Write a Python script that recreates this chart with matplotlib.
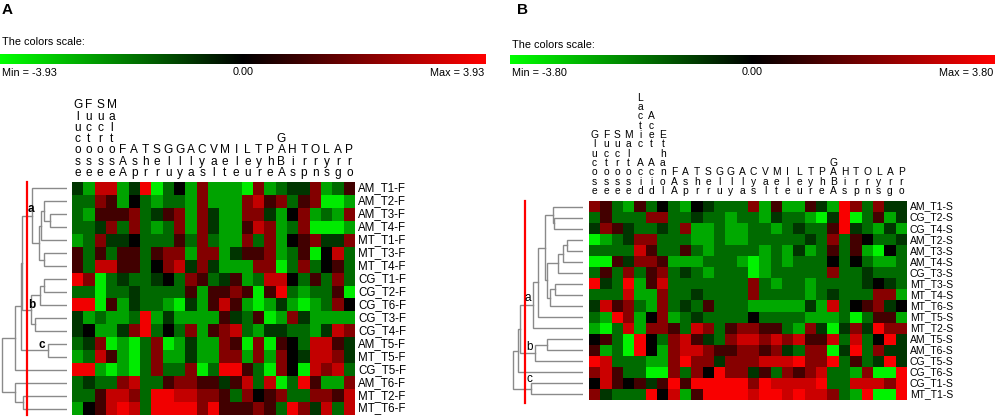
import numpy as np
import matplotlib
matplotlib.use("Agg")
import matplotlib.pyplot as plt
from matplotlib.colors import LinearSegmentedColormap
from matplotlib.transforms import blended_transform_factory

plt.rcParams["font.family"] = ["Liberation Sans", "DejaVu Sans"]

W, H = 1000, 417

# colour codes -> approximate z-score
levels = {"G": -3.6, "g": -2.5, "d": -1.6, "n": -0.8, "k": 0.0,
          "q": 1.0, "r": 2.0, "R": 3.0, "X": 3.7}

# ---- panel A (fruit) ----
cols_a = ["Glucose", "Fuctose", "Sucrose", "Maltose", "FAA", "Asp", "Thr", "Ser",
          "Glu", "Gly", "Ala", "Cys", "Val", "Met", "Ile", "Leu", "Tyr", "Phe",
          "GABA", "His", "Trp", "Orn", "Lys", "Arg", "Pro"]
rows_a = ["AM_T1-F", "AM_T2-F", "AM_T3-F", "AM_T4-F", "MT_T1-F", "MT_T3-F",
          "MT_T4-F", "CG_T1-F", "CG_T2-F", "CG_T6-F", "CG_T3-F", "CG_T4-F",
          "AM_T5-F", "MT_T5-F", "CG_T5-F", "AM_T6-F", "MT_T2-F", "MT_T6-F"]
cells_a = [
    "ngRRgnXGdkgrgggGrgdnnrgdq",
    "ddrqgkdgddgrgggrRqrdqrGGg",
    "dgqqqrdnqrgrnggrrngkrgdgr",
    "ddnrdrdgdrgrnggqRrgdrGGGg",
    "gdrnnkdddqdrdggrdrgkqrnnr",
    "qdqdqqdqrrgrrgnqqrgdqGkRd",
    "qdRRqqdkrRnrngggrrGdrdkqd",
    "XrGdnddnkdrqdnqgdRRkdqdrd",
    "ddGddnddddqgqqrqGqXdgddqG",
    "XXGqgnddgGngqRqgGgngGgdrk",
    "ngdggdXgnggggqndqGgrngggg",
    "nkggnrXdkdrgqrRdgnnddgnRr",
    "dnrGgGdrGgnggrqGrGqkdRRqn",
    "gdRqgGdrggnggrrgrgrknRRrn",
    "XXgGgGdrddrGdXXqdGrkGRrRd",
    "dnddrRddqrrqqnqRdRGdXqggr",
    "ddqRRrdXXRRrrqdrkqrddrrqR",
    "gkqRXRdXXXXrXqqqrqdXrnRdR",
]
vmax_a = 3.93
# (child, child, height) ; leaves 0..17, new nodes numbered from 18
merges_a = [(2, 3, 17), (1, 18, 23), (19, 4, 26), (5, 6, 23), (20, 21, 28),
            (0, 22, 35), (7, 8, 23), (24, 9, 27), (10, 11, 32), (25, 26, 36),
            (23, 27, 45), (12, 13, 19), (28, 29, 46), (30, 14, 52), (16, 17, 44),
            (15, 32, 52), (31, 33, 65)]
cut_a = 40

# ---- panel B (seed) ----
cols_b = ["Glucose", "Fuctose", "Sucrose", "Maltose", "Lactic Acid", "Acet Acid",
          "Ethanol", "FAA", "Asp", "Thr", "Ser", "Glu", "Gly", "Ala", "Cys", "Val",
          "Met", "Ile", "Leu", "Tyr", "Phe", "GABA", "His", "Trp", "Orn", "Lys",
          "Arg", "Pro"]
rows_b = ["AM_T1-S", "CG_T2-S", "CG_T4-S", "AM_T2-S", "AM_T3-S", "AM_T4-S",
          "CG_T3-S", "MT_T3-S", "MT_T4-S", "MT_T6-S", "MT_T5-S", "MT_T2-S",
          "AM_T5-S", "AM_T6-S", "CG_T5-S", "CG_T6-S", "CG_T1-S", "MT_T1-S"]
cells_b = [
    "rqdgqdkdgkndddrgqggqngXrdrnn",
    "dqdddrrddnddgddgnddgGnXGdqgn",
    "nrqnddndrggdggddgdnddqXndgng",
    "Ggdnrrdddggdggdddddndrdqkddn",
    "ddddRqddqdgddddgdgngdqdqgGkd",
    "GGqnrrqgggdddgGgdgdddkdkdggd",
    "dqdrdqrdndgdddGgdddddrddnddd",
    "XndXgqRdddddddrdgddgddddnknd",
    "dddRggrddnddddrddddgdndddrrg",
    "nRqrdgrdndqdddgggggngRdkqrnk",
    "dgXrgkrgdnddddkddddgggdGdqqg",
    "gGdRgrrqdRrdqrrqqdgrnGnrnXrr",
    "kqdGXkdrRqndrRRrRrRqqRdRdkXn",
    "qgdGXkgrRRrqqrrqrndrrGnXdrnn",
    "XRdddggrXrrnrrrRRRXrrXdqdnXn",
    "rRqddGGrdrkXrrnqdrqrRddgrGGX",
    "kRqkqnqXqXXXXXrXRRRRXddRRRrX",
    "rndddXkRgqXXXXRXXRXRRrdgXGGX",
]
vmax_b = 3.80
merges_b = [(1, 2, 29), (0, 18, 30), (3, 4, 16), (20, 5, 20), (21, 6, 25),
            (7, 8, 28), (23, 9, 33), (22, 24, 36), (19, 25, 38), (26, 10, 45),
            (27, 11, 50), (12, 13, 36), (29, 14, 48), (28, 30, 63), (31, 15, 65),
            (16, 17, 52), (32, 33, 70)]
cut_b = 58

cmap = LinearSegmentedColormap.from_list("gkr", ["#00ff00", "#000000", "#ff0000"])


def px_axes(fig, x0, y0, x1, y1):
    return fig.add_axes([x0 / W, 1 - y1 / H, (x1 - x0) / W, (y1 - y0) / H])


def draw_dendro(ax, merges, n):
    ys = {i: float(i) for i in range(n)}
    hs = {i: 0.0 for i in range(n)}
    for k, (a, b, h) in enumerate(merges):
        ax.plot([hs[a], h, h, hs[b]], [ys[a], ys[a], ys[b], ys[b]],
                color="#8a8a8a", lw=1.0, solid_joinstyle="miter")
        ys[n + k] = (ys[a] + ys[b]) / 2
        hs[n + k] = h


fig = plt.figure(figsize=(W / 100, H / 100), dpi=100)
ov = fig.add_axes([0, 0, 1, 1], zorder=5)
ov.set_xlim(0, W)
ov.set_ylim(H, 0)
ov.axis("off")

panels = [
    dict(cols=cols_a, rows=rows_a, cells=cells_a, vmax=vmax_a, merges=merges_a, cut=cut_a,
         heat=(72, 182, 355, 415), dend=(0, 67), bar=(0, 54, 486, 64), tag="A", tag_x=7,
         title_y=42, lab_y=73, col_base=176, col_step=11.3, col_fs=8.6, row_fs=8.3,
         cut_end=0.0, sub=[("a", 31, 209), ("b", 32, 305), ("c", 42, 345)], sub_w="bold"),
    dict(cols=cols_b, rows=rows_b, cells=cells_b, vmax=vmax_b, merges=merges_b, cut=cut_b,
         heat=(589, 201, 907, 400), dend=(505, 583), bar=(510, 55, 995, 64), tag="B", tag_x=522,
         title_y=45, lab_y=73, col_base=194, col_step=9.35, col_fs=7.4, row_fs=7.5,
         cut_end=0.25, sub=[("a", 528, 298), ("b", 530, 347), ("c", 529, 379)], sub_w="normal"),
]

for p in panels:
    vals = np.array([[levels[c] for c in row] for row in p["cells"]])
    n, m = vals.shape
    x0, y0, x1, y1 = p["heat"]

    # heatmap
    ax = px_axes(fig, x0, y0, x1, y1)
    ax.imshow(vals, cmap=cmap, vmin=-p["vmax"], vmax=p["vmax"], aspect="auto",
              interpolation="nearest")
    ax.axis("off")

    # column labels, one letter per line, bottom aligned
    tr = blended_transform_factory(ax.transData, ov.transData)
    for i, name in enumerate(p["cols"]):
        for j, ch in enumerate(reversed(name)):
            if ch != " ":
                ov.text(i, p["col_base"] - j * p["col_step"], ch, transform=tr,
                        ha="center", va="baseline", fontsize=p["col_fs"])

    # row labels
    tr = blended_transform_factory(ov.transData, ax.transData)
    for i, name in enumerate(p["rows"]):
        ov.text(x1 + 3, i, name, transform=tr, ha="left", va="center",
                fontsize=p["row_fs"])

    # dendrogram
    d0, d1 = p["dend"]
    dax = px_axes(fig, d0, y0, d1, y1)
    draw_dendro(dax, p["merges"], n)
    dax.set_xlim(d1 - d0, 0)
    dax.set_ylim(n - 0.5, -0.5)
    dax.plot([p["cut"], p["cut"]], [-0.5, n - 0.5 + p["cut_end"]], color="red",
             lw=1.6, clip_on=False)
    dax.axis("off")
    for s, sx, sy in p["sub"]:
        ov.text(sx, sy, s, ha="center", va="center", fontsize=8.5,
                fontweight=p["sub_w"])

    # colour scale bar
    bx0, by0, bx1, by1 = p["bar"]
    bax = px_axes(fig, bx0, by0, bx1, by1)
    bax.imshow(np.linspace(-p["vmax"], p["vmax"], 512)[None, :], cmap=cmap,
               vmin=-p["vmax"], vmax=p["vmax"], aspect="auto")
    bax.axis("off")
    ov.text(bx0 + 2, p["title_y"], "The colors scale:", ha="left", va="center",
            fontsize=7.8)
    ov.text(bx0 + 2, p["lab_y"], f"Min = -{p['vmax']:.2f}", ha="left", va="center",
            fontsize=7.8)
    ov.text((bx0 + bx1) / 2, p["lab_y"] - 1, "0.00", ha="center", va="center",
            fontsize=7.8)
    ov.text(bx1 - 2, p["lab_y"], f"Max = {p['vmax']:.2f}", ha="right", va="center",
            fontsize=7.8)

    ov.text(p["tag_x"], 10, p["tag"], ha="center", va="center", fontsize=11,
            fontweight="bold")

fig.savefig("out.png", dpi=100)
